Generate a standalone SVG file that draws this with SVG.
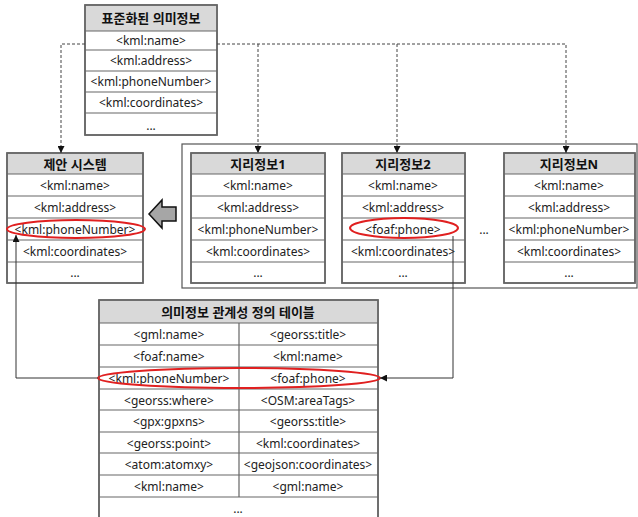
<svg xmlns="http://www.w3.org/2000/svg" width="638" height="517" viewBox="0 0 638 517">
<defs>
<style>
text{font-family:"Noto Sans","Noto Sans CJK KR",sans-serif;font-size:12px;fill:#222;text-anchor:middle;dominant-baseline:central}
.h{font-weight:bold;font-size:13px;fill:#111}
.hd{fill:#d9d9d9;stroke:none}
.box{fill:#fff;stroke:#666;stroke-width:1.5}
.ln{stroke:#666;stroke-width:1.2;fill:none}
.dash{stroke:#444;stroke-width:1;stroke-dasharray:3,2;fill:none}
.ell{fill:none;stroke:#e02020;stroke-width:2}
.con{stroke:#333;stroke-width:1;fill:none}
</style>
<marker id="ah" viewBox="0 0 10 10" refX="10" refY="5" markerWidth="7" markerHeight="7" orient="auto" markerUnits="userSpaceOnUse"><path d="M0,0L10,5L0,10z" fill="#111"/></marker>
</defs>

<rect x="182" y="144" width="455" height="144" fill="none" stroke="#555" stroke-width="1.2"/>

<g id="standard">
<rect class="box" x="85" y="5" width="132" height="130"/>
<rect class="hd" x="86" y="6" width="130" height="25"/>
<path class="ln" d="M85,31H217M85,50H217M85,71H217M85,92H217M85,113H217"/>
<rect x="85" y="5" width="132" height="130" fill="none" stroke="#666" stroke-width="1.5"/>
<text class="h" x="151" y="18">표준화된 의미정보</text>
<text x="151" y="40">&lt;kml:name&gt;</text>
<text x="151" y="60">&lt;kml:address&gt;</text>
<text x="151" y="81">&lt;kml:phoneNumber&gt;</text>
<text x="151" y="102">&lt;kml:coordinates&gt;</text>
<text x="151" y="125">...</text>
</g>

<g id="proposed">
<rect class="box" x="7" y="153" width="136" height="130"/>
<rect class="hd" x="8" y="154" width="134" height="20"/>
<path class="ln" d="M7,174H143M7,196H143M7,218H143M7,240H143M7,262H143"/>
<rect x="7" y="153" width="136" height="130" fill="none" stroke="#666" stroke-width="1.5"/>
<text class="h" x="75" y="164">제안 시스템</text>
<text x="75" y="185">&lt;kml:name&gt;</text>
<text x="75" y="207">&lt;kml:address&gt;</text>
<text x="75" y="229">&lt;kml:phoneNumber&gt;</text>
<text x="75" y="251">&lt;kml:coordinates&gt;</text>
<text x="75" y="272">...</text>
</g>

<g id="geo1">
<rect class="box" x="191" y="153" width="134" height="130"/>
<rect class="hd" x="192" y="154" width="132" height="20"/>
<path class="ln" d="M191,174H325M191,196H325M191,218H325M191,240H325M191,262H325"/>
<rect x="191" y="153" width="134" height="130" fill="none" stroke="#666" stroke-width="1.5"/>
<text class="h" x="258" y="164">지리정보1</text>
<text x="258" y="185">&lt;kml:name&gt;</text>
<text x="258" y="207">&lt;kml:address&gt;</text>
<text x="258" y="229">&lt;kml:phoneNumber&gt;</text>
<text x="258" y="251">&lt;kml:coordinates&gt;</text>
<text x="258" y="272">...</text>
</g>

<g id="geo2">
<rect class="box" x="342" y="153" width="123" height="130"/>
<rect class="hd" x="343" y="154" width="121" height="20"/>
<path class="ln" d="M342,174H465M342,196H465M342,218H465M342,240H465M342,262H465"/>
<rect x="342" y="153" width="123" height="130" fill="none" stroke="#666" stroke-width="1.5"/>
<text class="h" x="403" y="164">지리정보2</text>
<text x="403" y="185">&lt;kml:name&gt;</text>
<text x="403" y="207">&lt;kml:address&gt;</text>
<text x="403" y="229">&lt;foaf:phone&gt;</text>
<text x="403" y="251">&lt;kml:coordinates&gt;</text>
<text x="403" y="272">...</text>
</g>

<text x="484" y="229">...</text>

<g id="geoN">
<rect class="box" x="504" y="153" width="131" height="130"/>
<rect class="hd" x="505" y="154" width="129" height="20"/>
<path class="ln" d="M504,174H635M504,196H635M504,218H635M504,240H635M504,262H635"/>
<rect x="504" y="153" width="131" height="130" fill="none" stroke="#666" stroke-width="1.5"/>
<text class="h" x="569" y="164">지리정보N</text>
<text x="569" y="185">&lt;kml:name&gt;</text>
<text x="569" y="207">&lt;kml:address&gt;</text>
<text x="569" y="229">&lt;kml:phoneNumber&gt;</text>
<text x="569" y="251">&lt;kml:coordinates&gt;</text>
<text x="569" y="272">...</text>
</g>

<g id="mapping">
<rect class="box" x="99" y="300" width="279" height="220"/>
<rect class="hd" x="100" y="301" width="277" height="22"/>
<path class="ln" d="M99,323H378M99,345H378M99,367H378M99,389H378M99,410H378M99,432H378M99,453H378M99,475H378M99,497H378M239,323V497"/>
<rect x="99" y="300" width="279" height="220" fill="none" stroke="#666" stroke-width="1.5"/>
<text class="h" x="238" y="312">의미정보 관계성 정의 테이블</text>
<text x="169" y="334">&lt;gml:name&gt;</text><text x="308" y="334">&lt;georss:title&gt;</text>
<text x="169" y="356">&lt;foaf:name&gt;</text><text x="308" y="356">&lt;kml:name&gt;</text>
<text x="169" y="378">&lt;kml:phoneNumber&gt;</text><text x="308" y="378">&lt;foaf:phone&gt;</text>
<text x="169" y="400">&lt;georss:where&gt;</text><text x="308" y="400">&lt;OSM:areaTags&gt;</text>
<text x="169" y="421">&lt;gpx:gpxns&gt;</text><text x="308" y="421">&lt;georss:title&gt;</text>
<text x="169" y="443">&lt;georss:point&gt;</text><text x="308" y="443">&lt;kml:coordinates&gt;</text>
<text x="169" y="464">&lt;atom:atomxy&gt;</text><text x="308" y="464">&lt;geojson:coordinates&gt;</text>
<text x="169" y="486">&lt;kml:name&gt;</text><text x="308" y="486">&lt;gml:name&gt;</text>
<text x="238" y="508">...</text>
</g>

<g id="highlights">
<ellipse class="ell" cx="76" cy="229" rx="69" ry="9"/>
<ellipse class="ell" cx="404" cy="228" rx="54" ry="10"/>
<ellipse class="ell" cx="239" cy="378" rx="141" ry="10"/>
</g>

<g id="connectors">
<path class="dash" d="M85,44H61V153" marker-end="url(#ah)"/>
<path class="dash" d="M217,44H566V153" marker-end="url(#ah)"/>
<path class="dash" d="M258,44V153" marker-end="url(#ah)"/>
<path class="dash" d="M397,44V153" marker-end="url(#ah)"/>
<path class="con" d="M453,236V378H380" marker-end="url(#ah)"/>
<path class="con" d="M98,378H16V235" marker-end="url(#ah)"/>
<polygon points="149,214 162,200 162,207 176,207 176,221 162,221 162,228" fill="#a6a6a6" stroke="#111" stroke-width="1.5" stroke-linejoin="miter"/>
</g>
</svg>
